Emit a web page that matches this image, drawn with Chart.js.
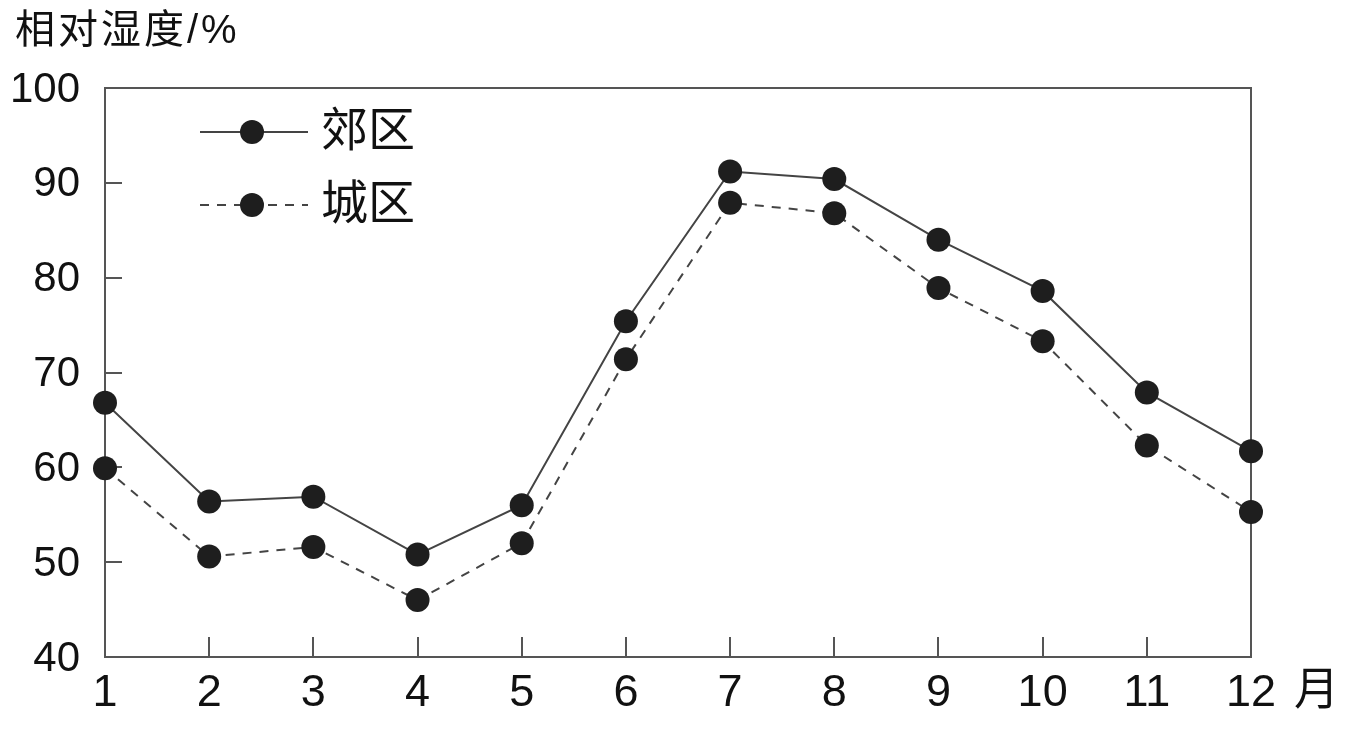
<!DOCTYPE html>
<html lang="zh">
<head>
<meta charset="utf-8">
<title>相对湿度</title>
<script src="https://cdn.jsdelivr.net/npm/chart.js"></script>
<style>
  html, body { margin: 0; padding: 0; background: #fff; }
  canvas { display: block; }
</style>
</head>
<body>
<canvas id="chart" width="1349" height="747"></canvas>
<script>
// --- data ---
const months = ['1', '2', '3', '4', '5', '6', '7', '8', '9', '10', '11', '12'];
const suburb = [66.8, 56.4, 56.9, 50.8, 56.0, 75.4, 91.2, 90.4, 84.0, 78.6, 67.9, 61.7];
const urban  = [59.9, 50.6, 51.6, 46.0, 52.0, 71.4, 87.9, 86.8, 78.9, 73.3, 62.3, 55.3];
const yMin = 40, yMax = 100, yStep = 10;

const seriesNames = ['郊区', '城区'];
const yTitle = '相对湿度/%';
const xUnit = '月';

const FONT = '"Liberation Sans", "Noto Sans CJK SC", sans-serif';
const LINE = '#444';
const DOT = '#1e1e1e';
const AXIS = '#555';
const DASH = [9, 8];

// frame (top/right), title, unit and legend
const extras = {
    id: 'extras',
    beforeDatasetsDraw(chart) {
        const { ctx, chartArea: a } = chart;
        ctx.save();
        ctx.strokeStyle = AXIS;
        ctx.lineWidth = 2;
        ctx.beginPath();
        ctx.moveTo(a.left, a.top);
        ctx.lineTo(a.right, a.top);
        ctx.lineTo(a.right, a.bottom);
        ctx.stroke();
        ctx.restore();
    },
    afterDraw(chart) {
        const { ctx, chartArea: a } = chart;
        ctx.save();
        ctx.fillStyle = '#111';
        ctx.textBaseline = 'middle';
        ctx.textAlign = 'left';
        ctx.font = '40px ' + FONT;
        ctx.letterSpacing = '3px';
        ctx.fillText(yTitle, 15, 32);
        ctx.letterSpacing = '0px';
        ctx.font = '45px ' + FONT;
        ctx.fillText(xUnit, a.right + 43, 693);

        // legend
        const rows = [{ y: 132, dash: [] }, { y: 205, dash: DASH }];
        rows.forEach((r, i) => {
            ctx.strokeStyle = LINE;
            ctx.lineWidth = 2;
            ctx.setLineDash(r.dash);
            ctx.beginPath();
            ctx.moveTo(200, r.y);
            ctx.lineTo(308, r.y);
            ctx.stroke();
            ctx.setLineDash([]);
            ctx.fillStyle = DOT;
            ctx.beginPath();
            ctx.arc(252, r.y, 12, 0, Math.PI * 2);
            ctx.fill();
            ctx.fillStyle = '#111';
            ctx.font = '47px ' + FONT;
            ctx.fillText(seriesNames[i], 321, r.y + 1);
        });
        ctx.restore();
    }
};

new Chart(document.getElementById('chart'), {
    type: 'line',
    data: {
        labels: months,
        datasets: [
            {
                label: seriesNames[0],
                data: suburb,
                borderColor: LINE,
                borderWidth: 2,
                pointRadius: 12,
                pointBackgroundColor: DOT,
                pointBorderColor: DOT,
                pointBorderWidth: 0,
                clip: false
            },
            {
                label: seriesNames[1],
                data: urban,
                borderColor: LINE,
                borderWidth: 2,
                borderDash: DASH,
                pointRadius: 12,
                pointBackgroundColor: DOT,
                pointBorderColor: DOT,
                pointBorderWidth: 0,
                clip: false
            }
        ]
    },
    options: {
        responsive: false,
        animation: false,
        layout: { padding: { left: 0, top: 88, right: 98, bottom: 0 } },
        plugins: {
            legend: { display: false },
            tooltip: { enabled: false }
        },
        scales: {
            x: {
                type: 'category',
                offset: false,
                grid: {
                    offset: false,
                    drawOnChartArea: false,
                    tickLength: -20,
                    color: AXIS,
                    lineWidth: 2
                },
                border: { display: true, color: AXIS, width: 2 },
                ticks: {
                    color: '#111',
                    padding: 34,
                    maxRotation: 0,
                    autoSkip: false,
                    font: { family: FONT, size: 45, lineHeight: 1 }
                },
                afterFit(scale) { scale.height = 90; }
            },
            y: {
                min: yMin,
                max: yMax,
                grid: {
                    drawOnChartArea: false,
                    tickLength: -17,
                    color: AXIS,
                    lineWidth: 2
                },
                border: { display: true, color: AXIS, width: 2 },
                ticks: {
                    stepSize: yStep,
                    color: '#111',
                    padding: 42,
                    labelOffset: 2,
                    font: { family: FONT, size: 42, lineHeight: 1 }
                },
                afterFit(scale) { scale.width = 105; }
            }
        }
    },
    plugins: [extras]
});
</script>
</body>
</html>
